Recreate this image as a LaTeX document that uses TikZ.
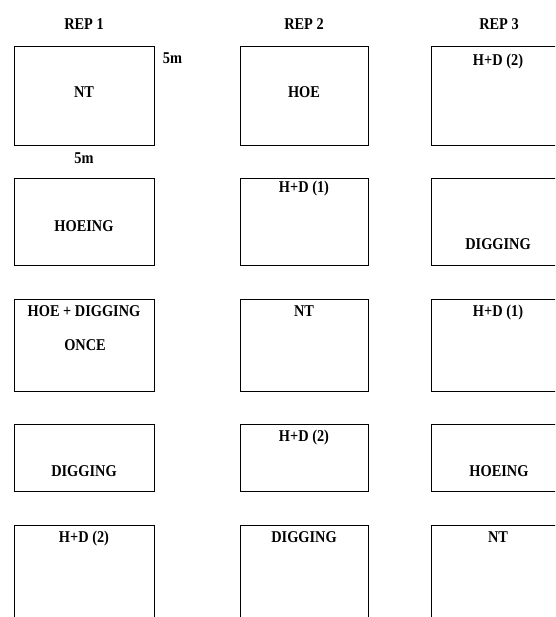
\documentclass[tikz,border=0pt]{standalone}
\usepackage{fontspec}
\setmainfont{Liberation Serif}[FakeStretch=0.87]
\begin{document}
\begin{tikzpicture}[x=1pt,y=1pt,
  plot/.style={draw,line width=1pt,rectangle,inner sep=0pt},
  lbl/.style={anchor=base,inner sep=0pt,font=\fontsize{16.5}{18}\selectfont\bfseries}]
\useasboundingbox (0,0) rectangle (555,-617);
\clip (0,0) rectangle (555,-617);
\fill[white] (0,0) rectangle (555,-617);
% column headings
\node[lbl] (rep1) at (84,-30) {REP 1};
\node[lbl] (rep2) at (304,-30) {REP 2};
\node[lbl] (rep3) at (499,-30) {REP 3};
% row 1
\node[plot,minimum width=140,minimum height=99] (p11) at (84,-96.5) {};
\node[plot,minimum width=128,minimum height=99] (p21) at (304,-96.5) {};
\node[plot,minimum width=134,minimum height=99] (p31) at (498,-96.5) {};
\node[lbl] (t11) at (84,-98) {NT};
\node[lbl] (t21) at (304,-98) {HOE};
\node[lbl] (t31) at (498,-66) {H+D (2)};
\node[lbl] (side) at (172.5,-64) {5m};
\node[lbl] (below) at (84,-164) {5m};
% row 2
\node[plot,minimum width=140,minimum height=86] (p12) at (84,-222) {};
\node[plot,minimum width=128,minimum height=86] (p22) at (304,-222) {};
\node[plot,minimum width=134,minimum height=86] (p32) at (498,-222) {};
\node[lbl] (t12) at (84,-231.5) {HOEING};
\node[lbl] (t22) at (304,-193) {H+D (1)};
\node[lbl] (t32) at (498,-250) {DIGGING};
% row 3
\node[plot,minimum width=140,minimum height=92] (p13) at (84,-345) {};
\node[plot,minimum width=128,minimum height=92] (p23) at (304,-345) {};
\node[plot,minimum width=134,minimum height=92] (p33) at (498,-345) {};
\node[lbl] (t13) at (84,-316.5) {HOE + DIGGING};
\node[lbl] (t13b) at (85,-350.5) {ONCE};
\node[lbl] (t23) at (304,-316) {NT};
\node[lbl] (t33) at (498,-316) {H+D (1)};
% row 4
\node[plot,minimum width=140,minimum height=67] (p14) at (84,-457.5) {};
\node[plot,minimum width=128,minimum height=67] (p24) at (304,-457.5) {};
\node[plot,minimum width=134,minimum height=67] (p34) at (498,-457.5) {};
\node[lbl] (t14) at (84,-476.5) {DIGGING};
\node[lbl] (t24) at (304,-441) {H+D (2)};
\node[lbl] (t34) at (499,-476.5) {HOEING};
% row 5
\node[plot,minimum width=140,minimum height=100] (p15) at (84,-575) {};
\node[plot,minimum width=128,minimum height=100] (p25) at (304,-575) {};
\node[plot,minimum width=134,minimum height=100] (p35) at (498,-575) {};
\node[lbl] (t15) at (84,-542) {H+D (2)};
\node[lbl] (t25) at (304,-542) {DIGGING};
\node[lbl] (t35) at (498,-542) {NT};
\end{tikzpicture}
\end{document}
